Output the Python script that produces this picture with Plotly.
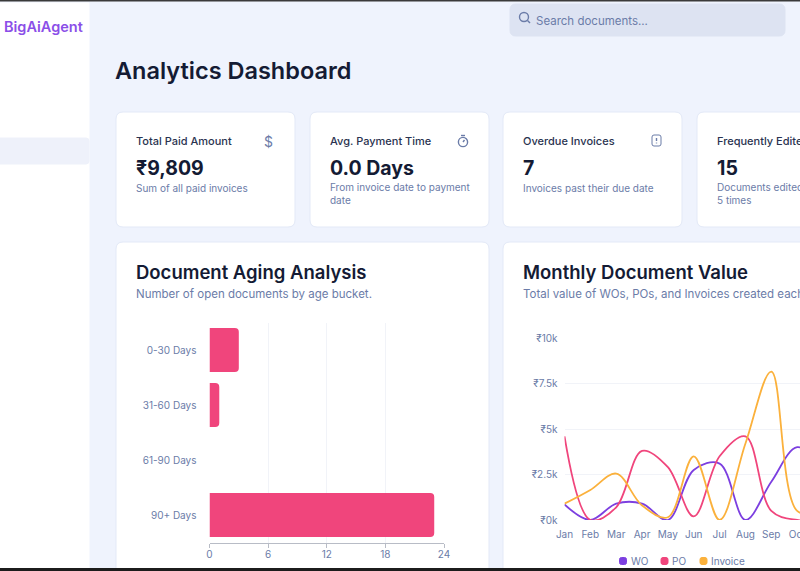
import plotly.graph_objects as go

W = 800
H = 571

# bar chart data
age_buckets = ["0-30 Days", "31-60 Days", "61-90 Days", "90+ Days"]
age_counts = [3, 1, 0, 23]

# line chart data (Nov is a guess, it is off screen)
months = ["Jan", "Feb", "Mar", "Apr", "May", "Jun", "Jul", "Aug", "Sep", "Oct", "Nov"]
wo_values = [850, 0, 900, 900, 0, 2750, 3100, 0, 2100, 4000, 3000]
po_values = [4600, 0, 700, 3800, 2900, 200, 3500, 4600, 500, 0, 0]
invoice_values = [900, 1650, 2550, 800, 150, 3500, 0, 4200, 8150, 500, 400]
value_ticks = [0, 2500, 5000, 7500, 10000]
value_labels = ["₹0k", "₹2.5k", "₹5k", "₹7.5k", "₹10k"]

# stat cards
card_titles = ["Total Paid Amount", "Avg. Payment Time", "Overdue Invoices", "Frequently Edited"]
card_values = ["₹9,809", "0.0 Days", "7", "15"]
card_notes = [
    "Sum of all paid invoices",
    "From invoice date to payment<br>date",
    "Invoices past their due date",
    "Documents edited more than<br>5 times",
]
card_lefts = [116, 310, 503, 697]

BG = "#eff3fd"
DARK = "#141b34"
MUTED = "#6b7ca8"
PINK = "#f0457c"
PURPLE = "#7c3fe0"
AMBER = "#fbb13c"
HEAD_FONT = "Inter"
BODY_FONT = "Inter"


def px(x):
    return x / W


def py(y):
    return 1 - y / H


def rounded(x0, y0, x1, y1, r):
    # rounded rectangle path in paper coordinates
    p = [
        f"M{px(x0 + r)},{py(y0)}",
        f"L{px(x1 - r)},{py(y0)}",
        f"Q{px(x1)},{py(y0)} {px(x1)},{py(y0 + r)}",
        f"L{px(x1)},{py(y1 - r)}",
        f"Q{px(x1)},{py(y1)} {px(x1 - r)},{py(y1)}",
        f"L{px(x0 + r)},{py(y1)}",
        f"Q{px(x0)},{py(y1)} {px(x0)},{py(y1 - r)}",
        f"L{px(x0)},{py(y0 + r)}",
        f"Q{px(x0)},{py(y0)} {px(x0 + r)},{py(y0)}",
        "Z",
    ]
    return " ".join(p)


def box(x0, y0, x1, y1, r, fill, line=None):
    return dict(
        type="path", xref="paper", yref="paper", layer="below",
        path=rounded(x0, y0, x1, y1, r), fillcolor=fill,
        line=dict(color=line or fill, width=1),
    )


def ring(cx, cy, r, color):
    return dict(
        type="circle", xref="paper", yref="paper", layer="above",
        x0=px(cx - r), x1=px(cx + r), y0=py(cy + r), y1=py(cy - r),
        line=dict(color=color, width=1.4),
    )


def stroke(x0, y0, x1, y1, color):
    return dict(
        type="line", xref="paper", yref="paper", layer="above",
        x0=px(x0), x1=px(x1), y0=py(y0), y1=py(y1),
        line=dict(color=color, width=1.4),
    )


def label(x, y, text, size, color=DARK, family=BODY_FONT, weight=400):
    return dict(
        xref="paper", yref="paper", x=px(x), y=py(y), text=text, showarrow=False,
        xanchor="left", yanchor="middle", align="left",
        font=dict(size=size, color=color, family=family, weight=weight),
        borderpad=0, borderwidth=0,
    )


shapes = [
    # sidebar, active item, search box
    box(-4, 3, 89, 575, 0, "#ffffff"),
    box(-10, 138, 89, 164, 3, "#eef1fa"),
    box(510, 4, 785, 36, 6, "#dde3f2"),
    # the two big cards
    box(116, 242, 489, 590, 7, "#ffffff", "#e3e9f7"),
    box(503, 242, 860, 590, 7, "#ffffff", "#e3e9f7"),
    # search icon
    ring(524, 17, 4.5, MUTED),
    stroke(527.5, 20.5, 530, 23, MUTED),
    # stopwatch icon
    ring(463, 142, 4.6, MUTED),
    stroke(461, 135.5, 465, 135.5, MUTED),
    stroke(463, 142, 464.5, 140, MUTED),
    # overdue file icon
    box(652, 135, 661, 146, 2, "#ffffff", MUTED),
    stroke(656.5, 138, 656.5, 141, MUTED),
    stroke(656.5, 142.6, 656.5, 143.4, MUTED),
    # window edges of the screenshot
    dict(type="rect", xref="paper", yref="paper", layer="above",
         x0=0, x1=1, y0=py(1.5), y1=1.01, fillcolor="#3a3a3a", line_width=0),
    dict(type="rect", xref="paper", yref="paper", layer="above",
         x0=0, x1=1, y0=-0.01, y1=py(568), fillcolor="#1c1c1c", line_width=0),
]

annotations = [
    label(4, 27, "BigAiAgent", 14.5, "#8b4fe8", HEAD_FONT, 600),
    label(536, 21, "Search documents...", 11.5, MUTED),
    label(115, 71, "Analytics Dashboard", 23.5, DARK, HEAD_FONT, 600),
    label(136, 272, "Document Aging Analysis", 18.5, DARK, HEAD_FONT, 600),
    label(136, 294, "Number of open documents by age bucket.", 11.5, MUTED),
    label(523, 272, "Monthly Document Value", 18.5, DARK, HEAD_FONT, 600),
    label(523, 294, "Total value of WOs, POs, and Invoices created each month.", 11.5, MUTED),
    dict(xref="paper", yref="paper", x=px(268.5), y=py(141), text="$", showarrow=False,
         xanchor="center", yanchor="middle",
         font=dict(size=14, color=MUTED, family=BODY_FONT)),
]

for i in range(4):
    left = card_lefts[i]
    shapes.insert(3, box(left, 112, left + 179, 227, 7, "#ffffff", "#e3e9f7"))
    annotations.append(label(left + 20, 141, card_titles[i], 11, "#2a3350", BODY_FONT, 500))
    annotations.append(label(left + 20, 168, card_values[i], 19.5, DARK, BODY_FONT, 700))
    annotations.append(dict(
        label(left + 20, 187.5 if "<br>" not in card_notes[i] else 194, card_notes[i], 10, MUTED),
    ))

# legend drawn by hand, the swatches sit much tighter than plotly's legend allows
legend_names = ["WO", "PO", "Invoice"]
legend_colors = [PURPLE, PINK, AMBER]
legend_lefts = [619.5, 661, 700]
for name, color, left in zip(legend_names, legend_colors, legend_lefts):
    shapes.append(box(left, 557.5, left + 7, 564.5, 2, color))
    annotations.append(label(left + 11, 561, name, 10, MUTED))

fig = go.Figure()

fig.add_trace(go.Bar(
    x=age_counts, y=age_buckets, orientation="h", xaxis="x", yaxis="y",
    marker=dict(color=PINK, cornerradius=4, line_width=0), showlegend=False,
))

for name, values, color in [("WO", wo_values, PURPLE), ("PO", po_values, PINK), ("Invoice", invoice_values, AMBER)]:
    fig.add_trace(go.Scatter(
        x=months, y=values, name=name, mode="lines", xaxis="x2", yaxis="y2",
        line=dict(color=color, width=1.8, shape="spline", smoothing=1), showlegend=False,
        cliponaxis=False,
    ))

axis_font = dict(size=10, color=MUTED, family=BODY_FONT)

fig.update_layout(
    width=W, height=H, margin=dict(l=0, r=0, t=0, b=0, autoexpand=False), autosize=False,
    paper_bgcolor=BG, plot_bgcolor="rgba(0,0,0,0)",
    bargap=0.2, shapes=shapes, annotations=annotations,
    xaxis=dict(
        domain=[px(209.5), px(444)], range=[0, 24], anchor="y", automargin=False,
        tickvals=[0, 6, 12, 18, 24], ticks="outside", ticklen=4, tickcolor="#b8bcc6",
        showline=True, linecolor="#b8bcc6", linewidth=1, ticklabelstandoff=-2,
        gridcolor="#f1f3f8", gridwidth=1, zeroline=False, tickfont=axis_font,
    ),
    yaxis=dict(
        domain=[py(542.5), py(322.5)], autorange="reversed", anchor="x", automargin=False,
        categoryorder="array", categoryarray=age_buckets,
        showgrid=False, zeroline=False, showline=False, ticks="",
        ticklabelstandoff=12, tickfont=axis_font,
    ),
    xaxis2=dict(
        domain=[px(564.5), 1], range=[0, 9.11], anchor="y2", automargin=False,
        showgrid=False, zeroline=False, showline=False, ticks="",
        ticklabelstandoff=7, tickfont=axis_font,
    ),
    yaxis2=dict(
        domain=[py(520), py(338)], range=[0, 10000], anchor="x2", automargin=False,
        tickvals=value_ticks, ticktext=value_labels,
        gridcolor="#f1f3f8", gridwidth=1, zeroline=False, showline=False, ticks="",
        ticklabelstandoff=6, tickfont=axis_font,
    ),
)

# the page's default body margin would push the figure 8px in and cut its right edge
page_css = """
var st = document.createElement('style');
st.textContent = 'html,body{margin:0!important;padding:0!important;overflow:hidden!important}'
  + '.plotly-graph-div{position:fixed!important;left:0!important;top:0!important;width:800px!important}';
document.head.appendChild(st);
"""

fig.write_html("out.html", config={"displayModeBar": False}, post_script=page_css)
